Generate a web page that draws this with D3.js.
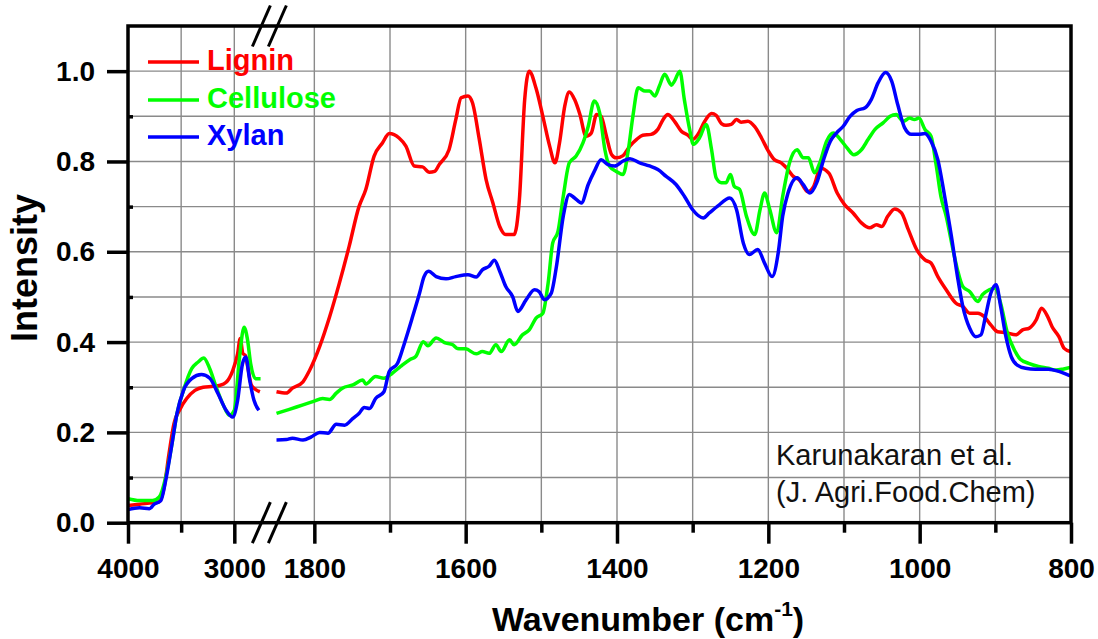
<!DOCTYPE html>
<html>
<head>
<meta charset="utf-8">
<script src="https://cdn.jsdelivr.net/npm/d3@7"></script>
<style>
  body { margin: 0; background: #fff; }
  svg { display: block; font-family: "Liberation Sans", Arial, sans-serif; }
</style>
</head>
<body>
<svg width="1098" height="639"></svg>
<script>
// spectra: [wavenumber, intensity]
var ligninLeft = [[4000,0.038],[3892,0.041],[3768,0.044],[3706,0.046],[3660,0.079],[3614,0.153],[3568,0.219],[3509,0.252],[3448,0.275],[3370,0.293],[3293,0.300],[3200,0.302],[3139,0.304],[3077,0.311],[3015,0.337],[2969,0.374],[2944,0.408],[2920,0.375],[2895,0.370],[2870,0.340],[2840,0.305],[2800,0.295],[2760,0.290]];
var celluloseLeft = [[4000,0.053],[3892,0.049],[3768,0.049],[3706,0.057],[3645,0.101],[3586,0.175],[3540,0.241],[3478,0.293],[3401,0.341],[3340,0.356],[3287,0.365],[3231,0.341],[3170,0.300],[3108,0.263],[3046,0.238],[3000,0.249],[2954,0.359],[2908,0.433],[2877,0.407],[2846,0.352],[2800,0.319],[2753,0.319]];
var xylanLeft = [[4000,0.029],[3892,0.033],[3799,0.031],[3753,0.041],[3691,0.049],[3645,0.094],[3586,0.175],[3540,0.241],[3478,0.293],[3401,0.319],[3309,0.328],[3231,0.320],[3154,0.286],[3077,0.249],[3015,0.234],[2969,0.271],[2923,0.352],[2892,0.367],[2855,0.315],[2815,0.271],[2769,0.249]];

var ligninRight = [[1850,0.290],[1837,0.287],[1829,0.298],[1815,0.312],[1807,0.335],[1793,0.390],[1780,0.455],[1767,0.530],[1754,0.612],[1741,0.700],[1732,0.738],[1721,0.812],[1710,0.841],[1701,0.862],[1688,0.852],[1679,0.834],[1668,0.790],[1657,0.788],[1648,0.776],[1641,0.778],[1635,0.793],[1622,0.826],[1613,0.893],[1606,0.941],[1597,0.945],[1591,0.930],[1582,0.849],[1573,0.760],[1564,0.708],[1555,0.656],[1547,0.638],[1536,0.638],[1529,0.716],[1522,0.937],[1516,1.000],[1507,0.962],[1498,0.900],[1489,0.834],[1482,0.797],[1476,0.841],[1469,0.923],[1463,0.954],[1456,0.937],[1449,0.904],[1441,0.856],[1434,0.863],[1427,0.904],[1421,0.900],[1414,0.856],[1407,0.815],[1401,0.808],[1392,0.813],[1383,0.834],[1374,0.849],[1366,0.858],[1355,0.860],[1346,0.871],[1339,0.893],[1333,0.904],[1324,0.889],[1315,0.867],[1306,0.858],[1300,0.849],[1293,0.860],[1284,0.889],[1275,0.906],[1269,0.902],[1262,0.884],[1256,0.880],[1249,0.882],[1242,0.893],[1236,0.887],[1227,0.889],[1218,0.877],[1209,0.852],[1200,0.823],[1192,0.804],[1183,0.797],[1176,0.786],[1167,0.767],[1159,0.759],[1148,0.733],[1140,0.745],[1131,0.785],[1120,0.774],[1109,0.730],[1099,0.704],[1088,0.686],[1077,0.664],[1066,0.653],[1057,0.660],[1050,0.656],[1042,0.679],[1033,0.695],[1024,0.686],[1015,0.649],[1004,0.605],[993,0.582],[985,0.575],[976,0.545],[965,0.516],[952,0.486],[943,0.479],[934,0.464],[923,0.464],[915,0.457],[906,0.438],[897,0.423],[886,0.421],[873,0.416],[864,0.427],[855,0.431],[846,0.449],[839,0.475],[831,0.457],[825,0.434],[816,0.412],[809,0.386],[801,0.379]];
var celluloseRight = [[1850,0.242],[1833,0.251],[1815,0.261],[1802,0.268],[1789,0.275],[1780,0.273],[1771,0.287],[1763,0.298],[1749,0.305],[1736,0.316],[1732,0.307],[1719,0.324],[1708,0.320],[1697,0.331],[1686,0.346],[1674,0.361],[1666,0.368],[1656,0.401],[1650,0.392],[1639,0.409],[1628,0.399],[1617,0.394],[1611,0.386],[1600,0.385],[1586,0.374],[1578,0.379],[1569,0.375],[1560,0.394],[1553,0.379],[1542,0.405],[1536,0.394],[1525,0.416],[1516,0.427],[1507,0.453],[1498,0.464],[1491,0.531],[1485,0.619],[1478,0.645],[1471,0.723],[1463,0.797],[1454,0.812],[1445,0.841],[1438,0.878],[1430,0.934],[1423,0.908],[1416,0.826],[1410,0.790],[1401,0.778],[1392,0.771],[1385,0.826],[1379,0.900],[1372,0.963],[1363,0.956],[1357,0.956],[1350,0.945],[1344,0.967],[1337,0.993],[1328,0.969],[1324,0.978],[1317,1.000],[1311,0.937],[1304,0.871],[1299,0.838],[1291,0.852],[1282,0.882],[1275,0.826],[1269,0.764],[1262,0.753],[1256,0.753],[1250,0.771],[1245,0.745],[1238,0.738],[1229,0.679],[1218,0.638],[1211,0.693],[1205,0.730],[1198,0.693],[1189,0.642],[1181,0.723],[1172,0.797],[1162,0.826],[1154,0.808],[1147,0.808],[1139,0.775],[1132,0.797],[1123,0.845],[1114,0.863],[1105,0.849],[1096,0.830],[1087,0.815],[1077,0.826],[1068,0.849],[1059,0.871],[1048,0.886],[1039,0.900],[1031,0.904],[1022,0.889],[1013,0.896],[1007,0.893],[1001,0.896],[993,0.871],[985,0.856],[978,0.790],[972,0.723],[965,0.679],[956,0.605],[950,0.560],[943,0.523],[934,0.512],[923,0.490],[917,0.505],[908,0.516],[900,0.520],[893,0.486],[884,0.420],[875,0.383],[867,0.362],[856,0.353],[843,0.346],[830,0.342],[820,0.338],[811,0.340],[801,0.344]];
var xylanRight = [[1850,0.183],[1837,0.184],[1829,0.187],[1815,0.183],[1804,0.190],[1793,0.200],[1782,0.198],[1771,0.218],[1760,0.216],[1749,0.231],[1741,0.242],[1734,0.255],[1727,0.253],[1719,0.275],[1708,0.290],[1701,0.335],[1690,0.353],[1681,0.397],[1670,0.457],[1661,0.508],[1655,0.545],[1649,0.557],[1639,0.545],[1626,0.540],[1613,0.545],[1597,0.549],[1586,0.544],[1578,0.560],[1569,0.568],[1562,0.581],[1555,0.557],[1547,0.523],[1538,0.501],[1531,0.468],[1520,0.494],[1509,0.516],[1503,0.512],[1496,0.494],[1487,0.508],[1480,0.568],[1471,0.679],[1463,0.727],[1456,0.719],[1447,0.708],[1438,0.749],[1430,0.778],[1421,0.804],[1412,0.793],[1403,0.790],[1392,0.801],[1383,0.806],[1370,0.797],[1357,0.790],[1346,0.782],[1335,0.767],[1322,0.749],[1311,0.723],[1300,0.693],[1286,0.675],[1278,0.686],[1267,0.701],[1251,0.719],[1242,0.693],[1233,0.619],[1225,0.594],[1214,0.605],[1205,0.575],[1195,0.545],[1187,0.597],[1181,0.679],[1174,0.730],[1162,0.764],[1154,0.749],[1145,0.730],[1136,0.753],[1127,0.804],[1118,0.845],[1110,0.863],[1101,0.878],[1092,0.900],[1083,0.913],[1072,0.919],[1064,0.937],[1055,0.974],[1045,0.997],[1037,0.978],[1029,0.926],[1020,0.875],[1011,0.860],[1002,0.860],[993,0.862],[985,0.845],[976,0.804],[967,0.723],[958,0.634],[950,0.545],[943,0.479],[934,0.431],[926,0.412],[919,0.416],[913,0.457],[906,0.508],[899,0.527],[893,0.479],[886,0.412],[879,0.368],[871,0.349],[860,0.342],[847,0.340],[830,0.340],[816,0.335],[801,0.325]];

var seriesNames = ["Lignin", "Cellulose", "Xylan"];
var seriesColors = ["#ff0000", "#00ff00", "#0000ff"];

var yMajor = [0, 0.2, 0.4, 0.6, 0.8, 1.0];
var yMinor = [0.1, 0.3, 0.5, 0.7, 0.9];
var yGrid = [0.1, 0.2, 0.3, 0.4, 0.5, 0.6, 0.7, 0.8, 0.9, 1.0];
var xLeftMajor = [4000, 3000];
var xLeftMinor = [3500];
var xRightMajor = [1800, 1600, 1400, 1200, 1000, 800];
var xRightMinor = [1700, 1500, 1300, 1100, 900];
var xRightGrid = [1800, 1700, 1600, 1500, 1400, 1300, 1200, 1100, 1000, 900];

var svg = d3.select("svg");
var top_ = 26, bottom = 522.7, left = 128, right = 1071;

var y = d3.scaleLinear().domain([0, 1.1]).range([bottom, top_]);
var xL = d3.scaleLinear().domain([4000, 2700]).range([left, 266.2]);
var xR = d3.scaleLinear().domain([1850, 800]).range([276.5, right]);

// grid
var grid = svg.append("g").attr("stroke", "#8a8a8a").attr("stroke-width", 1.4);
grid.selectAll(".h").data(yGrid).enter().append("line")
  .attr("x1", left).attr("x2", right)
  .attr("y1", function(d) { return y(d); }).attr("y2", function(d) { return y(d); });
grid.selectAll(".vl").data(xLeftMinor.concat([3000])).enter().append("line")
  .attr("x1", function(d) { return xL(d); }).attr("x2", function(d) { return xL(d); })
  .attr("y1", top_).attr("y2", bottom);
grid.selectAll(".vr").data(xRightGrid).enter().append("line")
  .attr("x1", function(d) { return xR(d); }).attr("x2", function(d) { return xR(d); })
  .attr("y1", top_).attr("y2", bottom);

// spectra
function drawLine(data, xs, color) {
  var line = d3.line()
    .x(function(d) { return xs(d[0]); })
    .y(function(d) { return y(d[1]); })
    .curve(d3.curveMonotoneX);
  svg.append("path").datum(data)
    .attr("d", line)
    .attr("fill", "none")
    .attr("stroke", color)
    .attr("stroke-width", 3.5)
    .attr("stroke-linejoin", "round");
}
drawLine(ligninLeft, xL, seriesColors[0]);
drawLine(celluloseLeft, xL, seriesColors[1]);
drawLine(xylanLeft, xL, seriesColors[2]);
drawLine(ligninRight, xR, seriesColors[0]);
drawLine(celluloseRight, xR, seriesColors[1]);
drawLine(xylanRight, xR, seriesColors[2]);

// frame
svg.append("rect").attr("x", left).attr("y", top_)
  .attr("width", right - left).attr("height", bottom - top_)
  .attr("fill", "none").attr("stroke", "#000").attr("stroke-width", 3.5);

// axes
function styleAxis(g) {
  g.select(".domain").remove();
  g.selectAll("line").attr("stroke", "#000").attr("stroke-width", 3.5);
  g.selectAll("text").attr("fill", "#000").style("font-size", "28px").style("font-weight", "bold");
}
svg.append("g").attr("transform", "translate(0," + bottom + ")")
  .call(d3.axisBottom(xL).tickValues(xLeftMajor).tickSize(21).tickPadding(14).tickFormat(d3.format("d")))
  .call(styleAxis);
svg.append("g").attr("transform", "translate(0," + bottom + ")")
  .call(d3.axisBottom(xL).tickValues(xLeftMinor).tickSize(10).tickFormat(""))
  .call(styleAxis);
svg.append("g").attr("transform", "translate(0," + bottom + ")")
  .call(d3.axisBottom(xR).tickValues(xRightMajor).tickSize(21).tickPadding(14).tickFormat(d3.format("d")))
  .call(styleAxis);
svg.append("g").attr("transform", "translate(0," + bottom + ")")
  .call(d3.axisBottom(xR).tickValues(xRightMinor).tickSize(10).tickFormat(""))
  .call(styleAxis);
svg.append("g").attr("transform", "translate(" + left + ",0)")
  .call(d3.axisLeft(y).tickValues(yMajor).tickSize(21).tickPadding(12).tickFormat(d3.format(".1f")))
  .call(styleAxis);
svg.append("g").attr("transform", "translate(" + left + ",0)")
  .call(d3.axisRight(y).tickValues(yMinor).tickSize(5).tickFormat(""))
  .call(styleAxis);

// axis break marks
var gapMid = (xL.range()[1] + xR.range()[0]) / 2 - 2;
[top_, bottom].forEach(function(cy) {
  [gapMid - 8, gapMid + 8].forEach(function(cx) {
    svg.append("line")
      .attr("x1", cx - 9).attr("y1", cy + 20.5)
      .attr("x2", cx + 9).attr("y2", cy - 20.5)
      .attr("stroke", "#000").attr("stroke-width", 3);
  });
});

// legend
var legend = svg.append("g");
[62, 100, 137].forEach(function(ly, i) {
  legend.append("line").attr("x1", 148).attr("x2", 199).attr("y1", ly).attr("y2", ly)
    .attr("stroke", seriesColors[i]).attr("stroke-width", 3.5);
  legend.append("text").attr("x", 207).attr("y", ly + 8)
    .attr("fill", seriesColors[i]).style("font-size", "29px").style("font-weight", "bold")
    .text(seriesNames[i]);
});

// note
svg.append("text").attr("x", 776).attr("y", 465).style("font-size", "29px").attr("fill", "#111")
  .text("Karunakaran et al.");
svg.append("text").attr("x", 776).attr("y", 502).style("font-size", "29px").attr("fill", "#111")
  .text("(J. Agri.Food.Chem)");

// axis titles
svg.append("text").attr("transform", "translate(37,268) rotate(-90)")
  .attr("text-anchor", "middle").style("font-size", "36px").style("font-weight", "bold")
  .text("Intensity");
var xt = svg.append("text").attr("x", 492).attr("y", 631)
  .style("font-size", "34px").style("font-weight", "bold");
xt.append("tspan").text("Wavenumber (cm");
xt.append("tspan").attr("dy", -15).style("font-size", "21px").text("-1");
xt.append("tspan").attr("dy", 15).text(")");
</script>
</body>
</html>
